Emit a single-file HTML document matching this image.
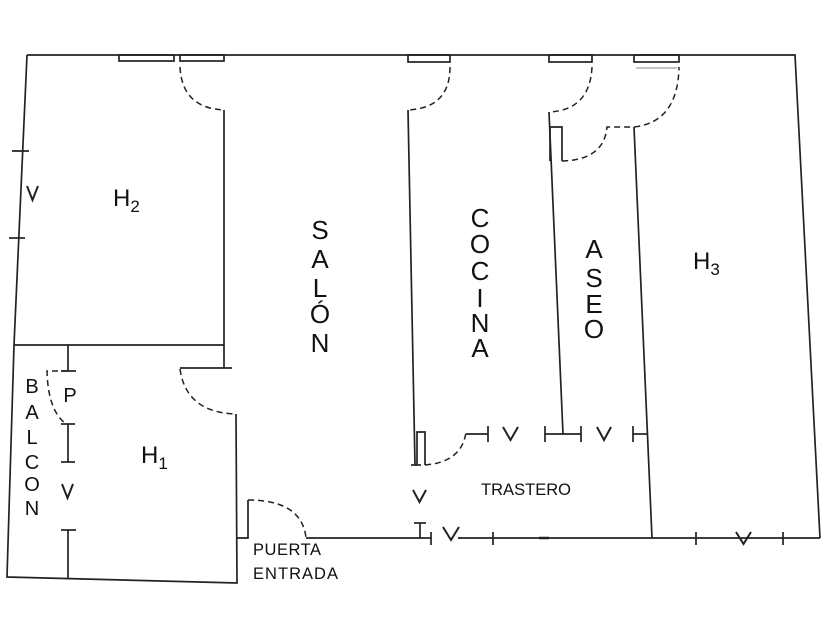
<!DOCTYPE html>
<html><head><meta charset="utf-8"><style>
html,body{margin:0;padding:0;background:#fff;}
svg{display:block;}
text{font-family:"Liberation Sans",sans-serif;fill:#111;}
</style></head><body>
<svg width="840" height="630" viewBox="0 0 840 630" xmlns="http://www.w3.org/2000/svg">
<g stroke="#222" stroke-width="1.7" fill="none" stroke-linecap="butt">
<polyline points="27,55 795,55 820,538"/>
<polyline points="27,55 14,345 7,577 237,583 236,414"/>
<line x1="12" y1="151" x2="29" y2="151"/>
<line x1="9" y1="238" x2="25" y2="238"/>
<rect x="119" y="55" width="55" height="6"/>
<rect x="180" y="55" width="44" height="6"/>
<rect x="408" y="55" width="42" height="7"/>
<rect x="549" y="55" width="43" height="7"/>
<rect x="634" y="55" width="45" height="7"/>
<line x1="636" y1="68" x2="677" y2="68" stroke="#bbb"/>
<line x1="224" y1="110" x2="224" y2="368"/>
<line x1="14" y1="345" x2="224" y2="345"/>
<line x1="180" y1="368" x2="232" y2="368"/>
<polyline points="408,110 415,465"/>
<line x1="411" y1="465" x2="421" y2="465"/>
<polyline points="417,465 417,432 425,432 425,465"/>
<line x1="549" y1="112" x2="563" y2="434"/>
<polyline points="550,161 550,127 562,127 562,161"/>
<line x1="634" y1="127" x2="652" y2="538"/>
<line x1="466" y1="434" x2="488" y2="434"/>
<line x1="488" y1="426" x2="488" y2="442"/>
<line x1="545" y1="434" x2="581" y2="434"/>
<line x1="545" y1="426" x2="545" y2="442"/>
<line x1="581" y1="426" x2="581" y2="442"/>
<line x1="633" y1="426" x2="633" y2="442"/>
<line x1="633" y1="434" x2="648" y2="434"/>
<line x1="458" y1="538" x2="820" y2="538"/>
<line x1="493" y1="532" x2="493" y2="545"/>
<line x1="539" y1="538" x2="549" y2="538" stroke-width="2.5"/>
<line x1="696" y1="532" x2="696" y2="545"/>
<line x1="783" y1="532" x2="783" y2="545"/>
<line x1="306" y1="538" x2="431" y2="538"/>
<line x1="431" y1="532" x2="431" y2="545"/>
<line x1="420" y1="523" x2="420" y2="538"/>
<line x1="414" y1="523" x2="426" y2="523"/>
<polyline points="236,538 248,538 248,500"/>
<line x1="68" y1="345" x2="68" y2="371"/>
<line x1="61" y1="371" x2="76" y2="371"/>
<line x1="68" y1="424" x2="68" y2="462"/>
<line x1="61" y1="424" x2="75" y2="424"/>
<line x1="61" y1="462" x2="75" y2="462"/>
<line x1="61" y1="530" x2="76" y2="530"/>
<line x1="68" y1="530" x2="68" y2="579"/>
<g stroke-width="2">
<polyline points="27,186 32.5,200 38,186"/>
<polyline points="62,484 67.5,498 73,484"/>
<polyline points="503,427 510.5,440 518,427"/>
<polyline points="597,427 604,440 611,427"/>
<polyline points="413,490 419.5,502 426,490"/>
<polyline points="443,527 451,540 459,527"/>
<polyline points="736,532 743.5,544 751,532"/>
</g>
</g>
<g stroke="#222" stroke-width="1.5" fill="none" stroke-dasharray="6,4">
<path d="M180,67 Q182,108 224,110"/>
<path d="M450,67 Q450,108 408,110"/>
<path d="M592,67 Q590,110 549,112"/>
<path d="M562,161 Q604,160 607,127 L634,127 Q678,122 679,67"/>
<path d="M180,369 Q186,412 235,414"/>
<path d="M248,500 Q302,500 306,538"/>
<path d="M425,465 Q462,462 466,432"/>
<path d="M68,371 L47,371 Q48,410 65,423"/>
</g>
<text x="113" y="206" font-size="24">H<tspan font-size="17" dy="6">2</tspan></text>
<text x="141" y="463" font-size="24">H<tspan font-size="17" dy="6">1</tspan></text>
<text x="693" y="269" font-size="24">H<tspan font-size="17" dy="6">3</tspan></text>
<g font-size="26" text-anchor="middle">
<text x="320" y="239">S</text><text x="320" y="268">A</text><text x="320" y="297">L</text><text x="320" y="323">Ó</text><text x="320" y="352">N</text>
<text x="480" y="227">C</text><text x="480" y="253">O</text><text x="480" y="280">C</text><text x="480" y="307">I</text><text x="480" y="332">N</text><text x="480" y="357">A</text>
<text x="594" y="258">A</text><text x="594" y="287">S</text><text x="594" y="313">E</text><text x="594" y="338">O</text>
</g>
<g font-size="20" text-anchor="middle">
<text x="32" y="393">B</text><text x="32" y="419">A</text><text x="32" y="444">L</text><text x="32" y="469">C</text><text x="32" y="491">O</text><text x="32" y="515">N</text>
<text x="70" y="402">P</text>
</g>
<text x="481" y="495" font-size="16.5" textLength="90">TRASTERO</text>
<text x="253" y="555" font-size="16.5" textLength="68">PUERTA</text>
<text x="253" y="579" font-size="16.5" textLength="85">ENTRADA</text>
</svg>
</body></html>
